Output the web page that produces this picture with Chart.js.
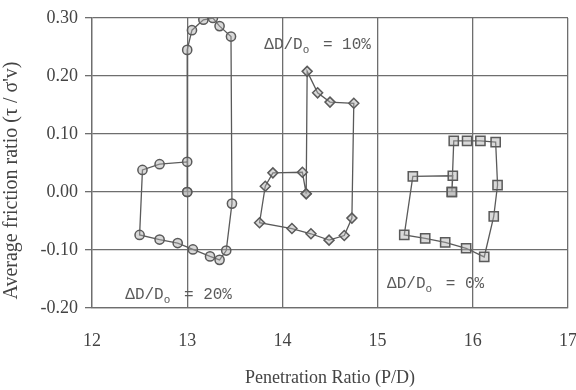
<!DOCTYPE html>
<html>
<head>
<meta charset="utf-8">
<script src="https://cdn.jsdelivr.net/npm/chart.js@4/dist/chart.umd.min.js"></script>
<style>
  html, body { margin: 0; padding: 0; background: #fff; }
  #wrap { width: 576px; height: 390px; }
</style>
</head>
<body>
<div id="wrap"><canvas id="canvas" width="576" height="390"></canvas></div>
<script>
// Delta D / Do = 20% loop (circles)
const loop20X = [13.0, 13.0, 12.71, 12.53, 12.5, 12.71, 12.9, 13.06, 13.24, 13.34, 13.41, 13.47, 13.46, 13.34, 13.27, 13.17, 13.05, 13.0, 13.0]
const loop20Y = [0.0, 0.052, 0.048, 0.038, -0.074, -0.082, -0.088, -0.099, -0.111, -0.117, -0.101, -0.02, 0.268, 0.286, 0.30, 0.297, 0.279, 0.245, 0.0]

// Delta D / Do = 10% loop (diamonds)
const loop10X = [14.25, 14.21, 13.9, 13.82, 13.76, 14.1, 14.3, 14.49, 14.65, 14.73, 14.75, 14.5, 14.37, 14.26, 14.25]
const loop10Y = [-0.003, 0.034, 0.033, 0.01, -0.053, -0.063, -0.072, -0.083, -0.075, -0.045, 0.153, 0.155, 0.171, 0.208, -0.003]

// Delta D / Do = 0% loop (squares)
const loop0X = [15.78, 15.79, 15.37, 15.28, 15.5, 15.71, 15.93, 16.12, 16.22, 16.26, 16.24, 16.08, 15.94, 15.8, 15.78]
const loop0Y = [0.0, 0.028, 0.027, -0.074, -0.08, -0.087, -0.097, -0.112, -0.042, 0.012, 0.086, 0.088, 0.088, 0.088, 0.0]

const loopLabels = ['20%', '10%', '0%']
const labelX = [12.35, 13.81, 15.10]
const labelY = [-0.178, 0.254, -0.159]

const xTicks = [12, 13, 14, 15, 16, 17]
const yTicks = [-0.20, -0.10, 0.00, 0.10, 0.20, 0.30]

const toPoints = (xs, ys) => xs.map((x, i) => ({ x: x, y: ys[i] }))

const ink = '#5a5a5a'
const gridCol = '#6e6e6e'

const loopText = {
    id: 'loopText',
    afterDatasetsDraw(chart) {
        const { ctx, scales: { x, y } } = chart
        ctx.save()
        ctx.fillStyle = ink
        ctx.textBaseline = 'middle'
        ctx.textAlign = 'left'
        for (let i = 0; i < loopLabels.length; i++) {
            let px = x.getPixelForValue(labelX[i])
            const py = y.getPixelForValue(labelY[i])
            ctx.font = '16px "Liberation Mono"'
            ctx.fillText('\u0394D/D', px, py)
            px += ctx.measureText('\u0394D/D').width
            ctx.font = '11px "Liberation Mono"'
            ctx.fillText('o', px, py + 5)
            px += ctx.measureText('o').width
            ctx.font = '16px "Liberation Mono"'
            ctx.fillText(' = ' + loopLabels[i], px + 4, py)
        }
        ctx.restore()
    }
}

const lineStyle = {
    showLine: true,
    borderColor: ink,
    borderWidth: 1.3,
    pointBorderColor: ink,
    pointBorderWidth: 1.5,
    pointBackgroundColor: 'rgba(170,170,170,0.45)',
    tension: 0
}

const config = {
    type: 'scatter',
    data: {
        datasets: [
            Object.assign({ label: '20%', data: toPoints(loop20X, loop20Y), pointStyle: 'circle', pointRadius: 4.6 }, lineStyle),
            Object.assign({ label: '10%', data: toPoints(loop10X, loop10Y), pointStyle: 'rectRot', pointRadius: 5 }, lineStyle),
            Object.assign({ label: '0%', data: toPoints(loop0X, loop0Y), pointStyle: 'rect', pointRadius: 6.5 }, lineStyle)
        ]
    },
    plugins: [loopText],
    options: {
        responsive: false,
        animation: false,
        layout: { padding: { top: 18, right: 7, left: 0, bottom: 0 } },
        plugins: {
            legend: { display: false },
            tooltip: { enabled: false }
        },
        scales: {
            x: {
                type: 'linear',
                min: 12,
                max: 17,
                afterBuildTicks(scale) { scale.ticks = xTicks.map(v => ({ value: v })) },
                afterFit(scale) {
                    scale.height = 82
                    scale.paddingRight = 0
                    scale.paddingLeft = 0
                },
                grid: { color: gridCol, lineWidth: 1.3, drawTicks: false },
                border: { color: gridCol, width: 1.3 },
                ticks: {
                    color: '#444',
                    padding: 22,
                    maxRotation: 0,
                    font: { family: '"Liberation Serif"', size: 18 }
                },
                title: {
                    display: true,
                    text: 'Penetration Ratio (P/D)',
                    color: '#444',
                    font: { family: '"Liberation Serif"', size: 18 },
                    padding: { top: 0, bottom: 1 }
                }
            },
            y: {
                type: 'linear',
                min: -0.2,
                max: 0.3,
                afterBuildTicks(scale) { scale.ticks = yTicks.map(v => ({ value: v })) },
                afterFit(scale) { scale.width = 92 },
                grid: { color: gridCol, lineWidth: 1.3, drawTicks: true, tickLength: 7 },
                border: { color: gridCol, width: 1.3 },
                ticks: {
                    color: '#444',
                    padding: 7,
                    font: { family: '"Liberation Serif"', size: 18 },
                    callback: v => Number(v).toFixed(2)
                },
                title: {
                    display: true,
                    // trailing spaces push the visible text a little below the axis centre, as in the scan
                    text: "Average friction ratio (\u03c4 / \u03c3'v)       ",
                    color: '#444',
                    font: { family: '"Liberation Serif"', size: 20 },
                    padding: { top: 0, bottom: 0 }
                }
            }
        }
    }
}

const canvas = document.getElementById('canvas')
const myChart = new Chart(canvas, config)
</script>
</body>
</html>
